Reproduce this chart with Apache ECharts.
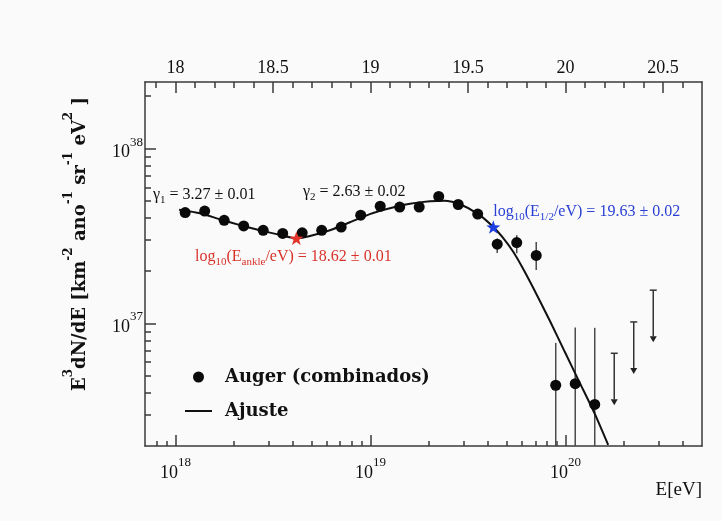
<!DOCTYPE html>
<html>
<head>
<meta charset="utf-8">
<script src="https://cdn.jsdelivr.net/npm/echarts@6/dist/echarts.min.js"></script>
<style>
  html, body { margin: 0; padding: 0; background: #fafafa; }
  #chart { width: 722px; height: 521px; }
</style>
</head>
<body>
<div id="chart"></div>
<script>
// Auger combined spectrum: bin centres in log10(E/eV) and E^3 dN/dE in units of 1e37 km^-2 ano^-1 sr^-1 eV^2
const binLogE = [18.05, 18.15, 18.25, 18.35, 18.45, 18.55, 18.65, 18.75, 18.85, 18.95, 19.05,
                 19.15, 19.25, 19.35, 19.45, 19.55, 19.65, 19.75, 19.85, 19.95, 20.05, 20.15];
const binFlux = [4.31, 4.39, 3.89, 3.61, 3.41, 3.27, 3.30, 3.41, 3.56, 4.16, 4.68,
                 4.63, 4.63, 5.33, 4.79, 4.22, 2.84, 2.90, 2.45, 0.443, 0.452, 0.344];

// Error bars of the highest-energy bins (a lower edge of 0 reaches down to zero flux)
const errLogE = [19.65, 19.75, 19.85, 19.95, 20.05, 20.15];
const errLow  = [2.53, 2.52, 2.02, 0, 0, 0];
const errHigh = [3.06, 3.20, 2.92, 0.774, 0.948, 0.944];

// Upper limits (no events)
const limitLogE = [20.25, 20.35, 20.45];
const limitFlux = [0.675, 1.02, 1.55];

// Fitted spectrum (Ajuste)
const fitLogE = [18.019, 18.126, 18.228, 18.331, 18.433, 18.536, 18.62, 18.690, 18.792, 18.895,
                 18.997, 19.100, 19.203, 19.305, 19.382, 19.454, 19.553, 19.63, 19.690, 19.732,
                 19.777, 19.833, 19.921, 19.997, 20.074, 20.151, 20.219];
const fitFlux = [4.47, 4.27, 3.94, 3.65, 3.41, 3.21, 3.07, 3.16, 3.41, 3.79,
                 4.22, 4.56, 4.84, 5.00, 5.04, 4.84, 4.22, 3.56, 2.99, 2.57,
                 2.11, 1.61, 1.03, 0.686, 0.456, 0.303, 0.202];

// Ankle and half-flux energy markers
const ankleLogE = 18.62, ankleFlux = 3.07;
const halfLogE = 19.63, halfFlux = 3.56;

// Axis labels
const decadeLabels = [18, 19, 20];                 // bottom axis: E = 10^n eV
const topLabels = [18, 18.5, 19, 19.5, 20, 20.5];  // top axis: log10(E/eV)
const fluxDecades = [37, 38];                      // left axis: 10^n

// Axis ranges in log10 units
const XMIN = 17.844, XMAX = 20.70;
const YMIN = 36.299, YMAX = 38.381;

const toLogFlux = f => 37 + Math.log10(f);

// minor ticks
const bottomMinor = [];
for (let n = 17; n <= 20; n++) for (let k = 2; k <= 9; k++) {
  const v = n + Math.log10(k);
  if (v > XMIN + 0.003 && v < XMAX - 0.003) bottomMinor.push(v);
}
const leftMinor = [];
for (let n = 36; n <= 38; n++) for (let k = 2; k <= 9; k++) {
  const v = n + Math.log10(k);
  if (v > YMIN + 0.005 && v < YMAX - 0.003) leftMinor.push(v);
}
const topMinor = [];
for (let i = 179; i <= 206; i++) if (i % 5 !== 0) topMinor.push(i / 10);

const SERIF = 'Liberation Serif';
const BOLD_SERIF = 'DejaVu Serif';
const AXIS_COLOR = '#3a3a3a';

const powRich = {
  b: { fontFamily: SERIF, fontSize: 18, color: '#111', lineHeight: 26, verticalAlign: 'bottom' },
  s: { fontFamily: SERIF, fontSize: 13, color: '#111', lineHeight: 13, verticalAlign: 'top' }
};

const lineStyleAxis = { color: AXIS_COLOR, width: 1.5 };

function valueAxis(extra) {
  return Object.assign({
    type: 'value',
    splitLine: { show: false },
    axisLine: { show: false },
    axisTick: { show: false },
    axisLabel: { show: false }
  }, extra);
}

const mainPoints = binLogE.map((x, i) => [x, toLogFlux(binFlux[i])]);
const fitPoints = fitLogE.map((x, i) => [x, toLogFlux(fitFlux[i])]);
const errPoints = errLogE.map((x, i) => [x, errLow[i] > 0 ? toLogFlux(errLow[i]) : YMIN, toLogFlux(errHigh[i])]);
const limitPoints = limitLogE.map((x, i) => [x, toLogFlux(limitFlux[i])]);

const starPath = 'path://M0,-10L2.35,-3.24L9.51,-3.09L3.8,1.24L5.88,8.09L0,4L-5.88,8.09L-3.8,1.24L-9.51,-3.09L-2.35,-3.24Z';

const subRich = color => ({
  t: { fontFamily: SERIF, fontSize: 16, color: color, lineHeight: 22 },
  s: { fontFamily: SERIF, fontSize: 11, color: color, lineHeight: 11, verticalAlign: 'bottom' }
});

const chart = echarts.init(document.getElementById('chart'), null, { renderer: 'canvas' });

chart.setOption({
  backgroundColor: '#fafafa',
  animation: false,
  textStyle: { fontFamily: SERIF },
  grid: { left: 145, right: 20, top: 82, bottom: 75, outerBoundsMode: 'none' },
  xAxis: [
    valueAxis({
      position: 'bottom', min: XMIN, max: XMAX,
      axisLine: { show: true, lineStyle: lineStyleAxis },
      axisTick: { show: true, inside: true, length: 11, lineStyle: lineStyleAxis, customValues: decadeLabels },
      axisLabel: {
        show: true, margin: 10, customValues: decadeLabels,
        formatter: v => '{b|10}{s|' + Math.round(v) + '}', rich: powRich
      }
    }),
    valueAxis({
      position: 'bottom', min: XMIN, max: XMAX,
      axisTick: { show: true, inside: true, length: 5, lineStyle: lineStyleAxis, customValues: bottomMinor }
    }),
    valueAxis({
      position: 'top', min: XMIN, max: XMAX,
      axisLine: { show: true, lineStyle: lineStyleAxis },
      axisTick: { show: true, inside: true, length: 11, lineStyle: lineStyleAxis, customValues: topLabels },
      axisLabel: {
        show: true, margin: 5, customValues: topLabels,
        formatter: v => String(v), fontFamily: SERIF, fontSize: 18, color: '#111'
      }
    }),
    valueAxis({
      position: 'top', min: XMIN, max: XMAX,
      axisTick: { show: true, inside: true, length: 6, lineStyle: lineStyleAxis, customValues: topMinor }
    })
  ],
  yAxis: [
    valueAxis({
      position: 'left', min: YMIN, max: YMAX,
      axisLine: { show: true, lineStyle: lineStyleAxis },
      axisTick: { show: true, inside: true, length: 11, lineStyle: lineStyleAxis, customValues: fluxDecades },
      axisLabel: {
        show: true, margin: 2, customValues: fluxDecades,
        formatter: v => '{b|10}{s|' + Math.round(v) + '}', rich: powRich
      }
    }),
    valueAxis({
      position: 'left', min: YMIN, max: YMAX,
      axisTick: { show: true, inside: true, length: 6, lineStyle: lineStyleAxis, customValues: leftMinor }
    }),
    valueAxis({
      position: 'right', min: YMIN, max: YMAX,
      axisLine: { show: true, lineStyle: lineStyleAxis }
    })
  ],
  legend: {
    orient: 'vertical', left: 180, top: 362,
    itemWidth: 27, itemHeight: 11, itemGap: 14,
    textStyle: { fontFamily: BOLD_SERIF, fontWeight: 'bold', fontSize: 18, color: '#111', lineHeight: 20, padding: [0, 0, 0, 8] },
    data: [
      { name: 'Auger (combinados)', icon: 'circle', itemStyle: { color: '#0a0a0a', opacity: 1 } },
      { name: 'Ajuste', icon: 'path://M0,4.5H27V6.5H0Z', itemStyle: { color: '#111', opacity: 1 } }
    ]
  },
  series: [
    {
      name: 'Ajuste', type: 'line', data: fitPoints, symbol: 'none', smooth: 0.2,
      lineStyle: { color: '#111', width: 2 }, itemStyle: { color: '#111' }, z: 3
    },
    {
      name: 'errores', type: 'custom', data: errPoints, z: 2,
      encode: { x: 0, y: [1, 2] },
      renderItem: (params, api) => {
        const a = api.coord([api.value(0), api.value(1)]);
        const b = api.coord([api.value(0), api.value(2)]);
        return { type: 'line', shape: { x1: a[0], y1: a[1], x2: b[0], y2: b[1] },
                 style: { stroke: '#4a4a4a', lineWidth: 1.5 } };
      }
    },
    {
      name: 'limites', type: 'custom', data: limitPoints, z: 2,
      encode: { x: 0, y: 1 },
      renderItem: (params, api) => {
        const p = api.coord([api.value(0), api.value(1)]);
        const len = 52, head = 6, half = 3.5;
        const st = { stroke: '#333', lineWidth: 1.5 };
        return {
          type: 'group',
          children: [
            { type: 'line', shape: { x1: p[0] - half, y1: p[1], x2: p[0] + half, y2: p[1] }, style: st },
            { type: 'line', shape: { x1: p[0], y1: p[1], x2: p[0], y2: p[1] + len - head }, style: st },
            { type: 'polygon', shape: { points: [[p[0] - 3.5, p[1] + len - head], [p[0] + 3.5, p[1] + len - head], [p[0], p[1] + len]] },
              style: { fill: '#222' } }
          ]
        };
      }
    },
    {
      name: 'Auger (combinados)', type: 'scatter', data: mainPoints,
      symbol: 'circle', symbolSize: 11, itemStyle: { color: '#0a0a0a', opacity: 1 }, z: 5
    },
    {
      name: 'ankle', type: 'scatter', data: [[ankleLogE, toLogFlux(ankleFlux)]],
      symbol: starPath, symbolSize: 14, symbolKeepAspect: true,
      itemStyle: { color: '#e2332b', opacity: 1 }, z: 6,
      label: {
        show: true, position: 'bottom', distance: 1, offset: [-3, 0],
        formatter: '{t|log}{s|10}{t|(E}{s|ankle}{t|/eV) = ' + ankleLogE.toFixed(2) + ' ± 0.01}',
        rich: subRich('#d8322a')
      }
    },
    {
      name: 'half', type: 'scatter', data: [[halfLogE, toLogFlux(halfFlux)]],
      symbol: starPath, symbolSize: 14, symbolKeepAspect: true,
      itemStyle: { color: '#1e3fe0', opacity: 1 }, z: 6,
      label: {
        show: true, position: [7, -9], align: 'left', verticalAlign: 'middle',
        formatter: '{t|log}{s|10}{t|(E}{s|1/2}{t|/eV) = ' + halfLogE.toFixed(2) + ' ± 0.02}',
        rich: subRich('#2a40d4')
      }
    }
  ],
  graphic: [
    {
      type: 'text', x: 76, y: 244, rotation: Math.PI / 2,
      style: {
        text: '{m|E}{p|3}{m|dN/dE [km}{p|-2}{m| ano}{p|-1}{m| sr}{p|-1}{m| eV}{p|2}{m| ]}',
        align: 'center', verticalAlign: 'middle', fill: '#111',
        rich: {
          m: { fontFamily: BOLD_SERIF, fontWeight: 'bold', fontSize: 18, lineHeight: 26, fill: '#111', verticalAlign: 'bottom' },
          p: { fontFamily: BOLD_SERIF, fontWeight: 'bold', fontSize: 12, lineHeight: 12, fill: '#111', verticalAlign: 'top' }
        }
      }
    },
    {
      type: 'text', x: 153, y: 195,
      style: {
        text: '{t|γ}{s|1}{t| = 3.27 ± 0.01}', align: 'left', verticalAlign: 'middle', fill: '#111',
        rich: {
          t: { fontFamily: SERIF, fontSize: 16, lineHeight: 22, fill: '#111' },
          s: { fontFamily: SERIF, fontSize: 11, lineHeight: 11, fill: '#111', verticalAlign: 'bottom' }
        }
      }
    },
    {
      type: 'text', x: 303, y: 192,
      style: {
        text: '{t|γ}{s|2}{t| = 2.63 ± 0.02}', align: 'left', verticalAlign: 'middle', fill: '#111',
        rich: {
          t: { fontFamily: SERIF, fontSize: 16, lineHeight: 22, fill: '#111' },
          s: { fontFamily: SERIF, fontSize: 11, lineHeight: 11, fill: '#111', verticalAlign: 'bottom' }
        }
      }
    },
    {
      type: 'text', x: 702, y: 490,
      style: { text: 'E[eV]', align: 'right', verticalAlign: 'middle', fill: '#111',
               font: '19px "Liberation Serif"' }
    }
  ]
});
</script>
</body>
</html>
